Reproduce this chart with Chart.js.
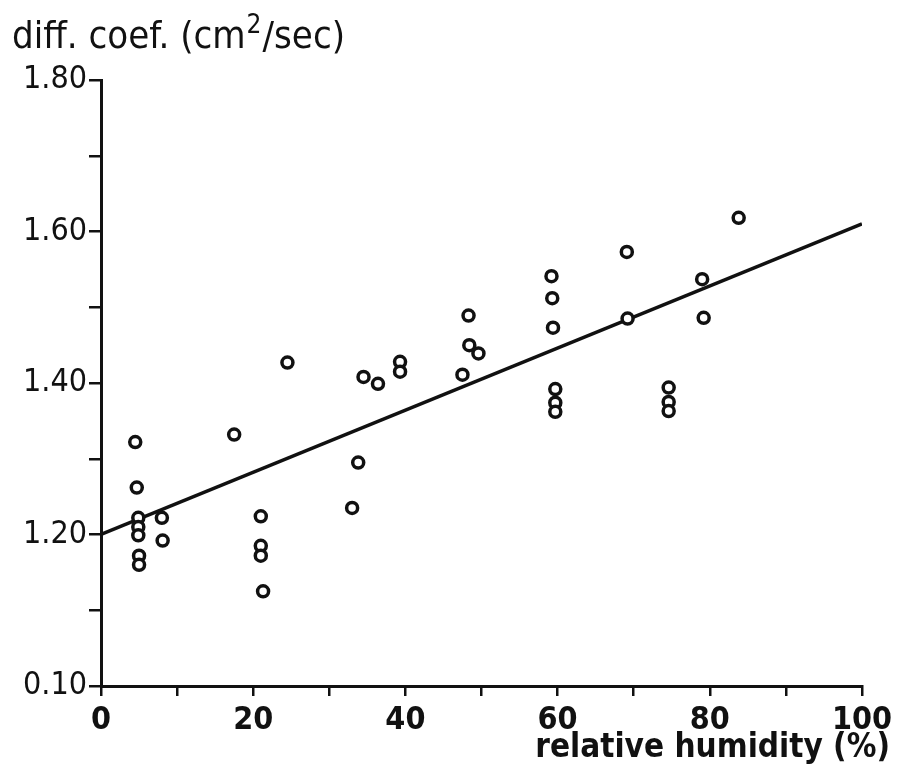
<!DOCTYPE html>
<html>
<head>
<meta charset="utf-8">
<script src="https://cdn.jsdelivr.net/npm/chart.js@4"></script>
<style>
  html, body { margin: 0; padding: 0; background: #fff; }
  #wrap { width: 897px; height: 764px; }
</style>
</head>
<body>
<div id="wrap"><canvas id="myChart" width="897" height="764"></canvas></div>
<script>
// relative humidity (%) of each measurement
const humidity = [
  4.5, 4.7, 4.9, 4.9, 4.9, 5.0, 5.0, 8.0, 8.1,
  17.5, 21.0, 21.0, 21.0, 21.3, 24.5,
  33.0, 33.8, 34.5, 36.4, 39.3, 39.3,
  47.5, 48.3, 48.4, 49.6,
  59.2, 59.3, 59.4, 59.7, 59.7, 59.7,
  69.1, 69.2, 74.6, 74.6, 74.6, 79.0, 79.2, 83.8,
];
// diffusion coefficient (cm2/sec)
const diffCoef = [
  1.322, 1.262, 1.222, 1.210, 1.199, 1.172, 1.160, 1.222, 1.192,
  1.332, 1.224, 1.185, 1.172, 1.125, 1.427,
  1.235, 1.295, 1.408, 1.399, 1.428, 1.415,
  1.411, 1.489, 1.450, 1.439,
  1.541, 1.512, 1.473, 1.392, 1.374, 1.362,
  1.573, 1.485, 1.394, 1.375, 1.363, 1.537, 1.486, 1.618,
];
// fitted line end points
const fitX = [0, 100];
const fitY = [1.20, 1.61];

const xTickLabels = ['0', '20', '40', '60', '80', '100'];
const yTickLabels = { 18: '1.80', 16: '1.60', 14: '1.40', 12: '1.20', 10: '0.10' };

const xTitle = 'relative humidity (%)';

const ink = '#111';
const cond = '"DejaVu Sans Condensed", sans-serif';

/* axis titles drawn on the canvas */
const titles = {
  id: 'titles',
  afterDraw(chart) {
    const c = chart.ctx;
    c.save();
    c.fillStyle = ink;
    c.textBaseline = 'alphabetic';
    c.textAlign = 'left';
    // y title with a raised "2"
    let x = 12;
    c.font = '38px ' + cond;
    c.fillText('diff. coef. (cm', x, 48);
    x += c.measureText('diff. coef. (cm').width + 1;
    c.font = '26px ' + cond;
    c.fillText('2', x, 33);
    x += c.measureText('2').width + 1;
    c.font = '38px ' + cond;
    c.fillText('/sec)', x, 48);
    // x title
    c.textAlign = 'right';
    c.font = 'bold 33px ' + cond;
    c.fillText(xTitle, 890, 757);
    c.restore();
  },
};

const ctx = document.getElementById('myChart');

new Chart(ctx, {
  type: 'scatter',
  data: {
    datasets: [
      {
        label: 'measured',
        data: humidity.map((h, i) => ({ x: h, y: diffCoef[i] })),
        pointRadius: 5.5,
        pointBorderWidth: 3.5,
        pointBackgroundColor: '#fff',
        pointBorderColor: ink,
        order: 1,
      },
      {
        type: 'line',
        label: 'fit',
        data: fitX.map((x, i) => ({ x: x, y: fitY[i] })),
        borderColor: ink,
        borderWidth: 3.5,
        pointRadius: 0,
        order: 2,
      },
    ],
  },
  options: {
    responsive: false,
    animation: false,
    layout: { padding: { top: 80, right: 33, bottom: 0, left: 0 } },
    plugins: {
      legend: { display: false },
      tooltip: { enabled: false },
    },
    scales: {
      x: {
        type: 'linear',
        min: 0,
        max: 100,
        afterFit: (scale) => { scale.height = 78; },
        border: { color: ink, width: 3 },
        grid: {
          drawOnChartArea: false,
          color: ink,
          lineWidth: 2.5,
          tickLength: 10,
        },
        ticks: {
          stepSize: 10,
          color: ink,
          padding: 5,
          maxRotation: 0,
          autoSkip: false,
          font: { family: cond, size: 32, weight: 'bold' },
          callback: (value) => (value % 20 === 0 ? xTickLabels[value / 20] : ''),
        },
      },
      y: {
        type: 'linear',
        min: 1.0,
        max: 1.8,
        afterFit: (scale) => { scale.width = 101; },
        border: { color: ink, width: 3 },
        grid: {
          drawOnChartArea: false,
          color: ink,
          lineWidth: 2.5,
          tickLength: 12,
        },
        ticks: {
          stepSize: 0.1,
          color: ink,
          padding: 2,
          autoSkip: false,
          font: { family: cond, size: 32 },
          callback: (value) => yTickLabels[Math.round(value * 10)] || '',
        },
      },
    },
  },
  plugins: [titles],
});
</script>
</body>
</html>
